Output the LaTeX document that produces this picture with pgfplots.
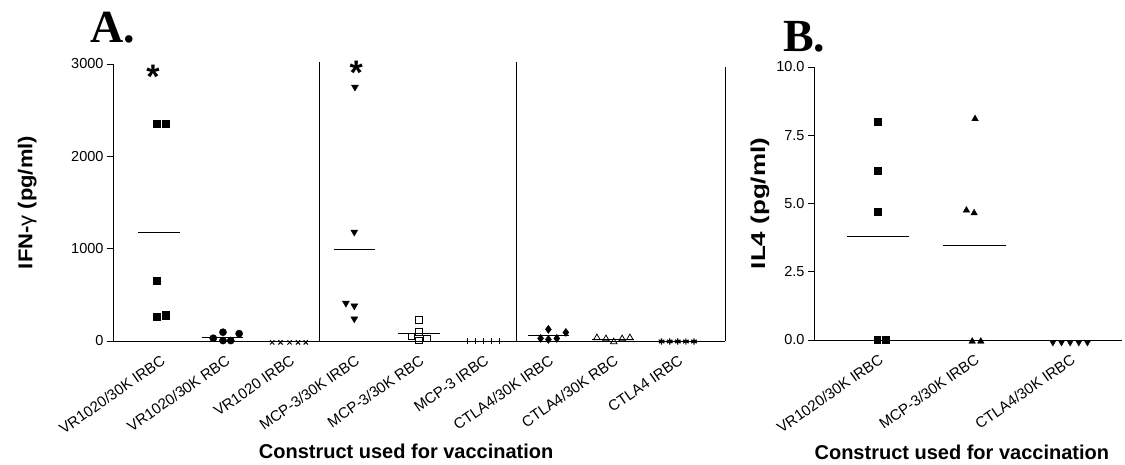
\documentclass[border=0pt]{standalone}
\usepackage{pgfplots}
\pgfplotsset{compat=1.18}
\usepackage{fontspec}
\setmainfont{Liberation Sans}
\newfontfamily\serifbold{Liberation Serif}

\pgfplotsset{
  dotplot/.style={
    scale only axis,
    axis x line=bottom, axis y line=left,
    axis line style={-, line width=0.9pt},
    tick align=outside,
    major tick length=6pt,
    tick style={black, line width=0.9pt},
    x tick style={draw=none},
    xticklabel style={yshift=-11pt, xshift=4pt, rotate=35, anchor=east, inner sep=1pt, font=\fontsize{15}{15}\selectfont},
    yticklabel style={font=\fontsize{14.5}{14.5}\selectfont},
    /pgf/number format/assume math mode=true,
    /pgf/number format/1000 sep={},
    clip=false,
    label style={font=\fontsize{20}{20}\selectfont\bfseries},
  },
  meanline/.style={black, line width=0.8pt, mark=none},
  sepline/.style={black, line width=0.9pt, mark=none},
}

\begin{document}
\begin{tikzpicture}
\path[use as bounding box] (-113pt,-124pt) rectangle (1012pt,341pt);

% ---------- A: IFN-gamma ----------
\begin{axis}[dotplot,
  at={(0pt,0pt)}, anchor=south west,
  width=612pt, height=277pt,
  xmin=-0.73, xmax=8.73,
  ymin=0, ymax=3000,
  ytick={0,1000,2000,3000},
  xtick={0,...,8},
  xticklabels={VR1020/30K IRBC, VR1020/30K RBC, VR1020 IRBC,
    MCP-3/30K IRBC, MCP-3/30K RBC, MCP-3 IRBC,
    CTLA4/30K IRBC, CTLA4/30K RBC, CTLA4 IRBC},
  xlabel={Construct used for vaccination},
  ylabel={\scalebox{1.1}[1]{IFN-{\mdseries γ} (pg/ml)}},
  xlabel style={at={(axis description cs:0.479,-0.40)}, anchor=center},
  ylabel style={at={(axis description cs:-0.14,0.5)}, anchor=center},
]
% group separators and right frame line
\addplot[sepline] coordinates {(2.46,0) (2.46,3020)};
\addplot[sepline] coordinates {(5.51,0) (5.51,3020)};
\addplot[sepline] coordinates {(8.73,0) (8.73,2970)};

% VR1020/30K IRBC
\addplot[only marks, mark=square*, mark size=3.6pt, black]
  coordinates {(-0.05,2350) (0.09,2350) (-0.05,650) (-0.05,260) (0.08,280)};
\addplot[meanline] coordinates {(-0.35,1180) (0.31,1180)};
% VR1020/30K RBC
\addplot[only marks, mark=*, mark size=3.6pt, black]
  coordinates {(0.82,30) (0.97,95) (0.97,5) (1.09,5) (1.22,80)};
\addplot[meanline] coordinates {(0.65,43) (1.28,43)};
% VR1020 IRBC
\addplot[only marks, mark=x, mark size=3pt, black, line width=1pt]
  coordinates {(1.73,-15) (1.86,-15) (2.0,-15) (2.13,-15) (2.25,-15)};

% MCP-3/30K IRBC
\addplot[only marks, mark=triangle*, mark options={rotate=180}, mark size=4pt, black]
  coordinates {(3.01,2750) (3.0,1180) (2.87,410) (3.0,380) (3.0,240)};
\addplot[meanline] coordinates {(2.68,990) (3.32,990)};
% MCP-3/30K RBC
\addplot[only marks, mark=square, mark size=3.3pt, black, line width=0.8pt]
  coordinates {(4.0,230) (4.0,100) (3.88,50) (4.0,5) (4.12,30)};
\addplot[meanline] coordinates {(3.68,83) (4.32,83)};
% MCP-3 IRBC
\addplot[only marks, mark=|, mark size=3pt, black, line width=0.9pt]
  coordinates {(4.75,-5) (4.875,-5) (5.0,-5) (5.125,-5) (5.25,-5)};

% CTLA4/30K IRBC
\addplot[only marks, mark=diamond*, mark size=4pt, black]
  coordinates {(6.0,126) (6.27,93) (5.88,28) (6.0,17) (6.13,28)};
\addplot[meanline] coordinates {(5.68,58) (6.32,58)};
% CTLA4/30K RBC
\addplot[only marks, mark=triangle, mark size=3.8pt, black, line width=0.8pt]
  coordinates {(6.75,34) (6.89,23) (7.01,-10) (7.14,23) (7.26,34)};
\addplot[meanline] coordinates {(6.68,21) (7.32,21)};
% CTLA4 IRBC
\addplot[only marks, mark=asterisk, mark size=3.2pt, black, line width=1.2pt]
  coordinates {(7.75,-5) (7.875,-5) (8.0,-5) (8.125,-5) (8.25,-5)};

% significance stars
\node[anchor=base, inner sep=0pt, font=\fontsize{34}{34}\selectfont\bfseries] at (axis cs:-0.11,2740) {*};
\node[anchor=base, inner sep=0pt, font=\fontsize{34}{34}\selectfont\bfseries] at (axis cs:3.03,2775) {*};

\node[inner sep=0pt, font=\serifbold\fontsize{46}{46}\selectfont\bfseries] at (axis description cs:0.0,1.13) {A.};
\end{axis}

% ---------- B: IL4 ----------
\begin{axis}[dotplot,
  at={(701pt,1pt)}, anchor=south west,
  width=308pt, height=273pt,
  xmin=-0.667, xmax=2.54,
  ymin=0, ymax=10,
  ytick={0,2.5,5,7.5,10},
  yticklabel style={/pgf/number format/.cd, fixed, fixed zerofill, precision=1},
  xtick={0,1,2},
  xticklabels={VR1020/30K IRBC, MCP-3/30K IRBC, CTLA4/30K IRBC},
  xlabel={Construct used for vaccination},
  ylabel={\scalebox{1.3}[1]{IL4 (pg/ml)}},
  xlabel style={at={(axis description cs:0.48,-0.41)}, anchor=center},
  ylabel style={at={(axis description cs:-0.175,0.5)}, anchor=center},
]
% VR1020/30K IRBC
\addplot[only marks, mark=square*, mark size=3.4pt, black]
  coordinates {(0,8.0) (0,6.2) (0,4.7) (-0.01,0) (0.08,0)};
\addplot[meanline] coordinates {(-0.32,3.78) (0.32,3.78)};
% MCP-3/30K IRBC
\addplot[only marks, mark=triangle*, mark size=3.8pt, black]
  coordinates {(1.01,8.1) (0.92,4.75) (1.0,4.65) (0.98,-0.05) (1.07,-0.05)};
\addplot[meanline] coordinates {(0.68,3.48) (1.33,3.48)};
% CTLA4/30K IRBC
\addplot[only marks, mark=triangle*, mark options={rotate=180}, mark size=3.8pt, black]
  coordinates {(1.82,-0.08) (1.91,-0.08) (2.0,-0.08) (2.09,-0.08) (2.18,-0.08)};

\node[inner sep=0pt, font=\serifbold\fontsize{46}{46}\selectfont\bfseries] at (axis description cs:-0.032,1.11) {B.};
\end{axis}
\end{tikzpicture}
\end{document}
